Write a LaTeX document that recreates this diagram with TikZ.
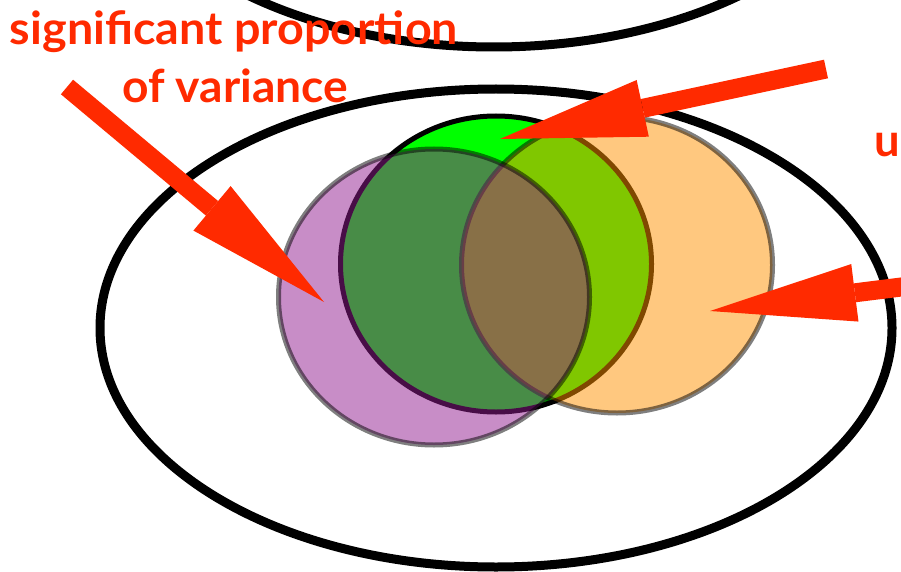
\documentclass[tikz,border=0pt]{standalone}
\usepackage{fontspec}
\usepackage{graphicx}
\newfontfamily\labelfont{Lato}
\usetikzlibrary{shapes.geometric,arrows.meta}
\definecolor{arrowred}{RGB}{255,42,0}
\definecolor{vgreen}{RGB}{0,255,0}
\definecolor{vorange}{RGB}{255,145,0}
\definecolor{vpurple}{RGB}{145,27,143}
\tikzset{
  bigellipse/.style={ellipse, draw=black, line width=9pt, minimum width=792pt, minimum height=478pt, inner sep=0pt},
  setcircle/.style={ellipse, line width=5pt, minimum width=311pt, minimum height=296pt, inner sep=0pt},
  halfset/.style={setcircle, fill=#1, fill opacity=0.5, draw=black, draw opacity=0.5},
  bigarrow/.style={draw=arrowred, line width=19pt, -{Triangle[length=146pt,width=58pt,line width=0pt]}},
  redlabel/.style={text=arrowred, font=\labelfont\bfseries\fontsize{45.4}{54}\selectfont, inner sep=0pt}
}
\begin{document}
\begin{tikzpicture}[x=1pt,y=-1pt]
\useasboundingbox (0,0) rectangle (901,572);
\clip (0,0) rectangle (901,572);
% outer sets
\node[bigellipse] (upper) at (494,-192) {};
\node[bigellipse] (outer) at (496,328) {};
% three sets
\node[setcircle, fill=vgreen, draw=black] (green) at (496,264) {};
\node[halfset=vorange] (orange) at (617,265) {};
\node[halfset=vpurple] (purple) at (434,297) {};
% labels
\node[redlabel, anchor=base] (lab1) at (234,45) {\resizebox{448pt}{\height}{significant proportion}};
\node[redlabel, anchor=base] (lab2) at (235,103) {\resizebox{226pt}{\height}{of variance}};
\node[redlabel, anchor=base west] (lab3) at (874,157) {u};
% arrow end points
\coordinate (t1) at (67,87);
\coordinate (h1) at (324,302);
\coordinate (t2) at (826,69);
\coordinate (h2) at (500,139);
\coordinate (t3) at (925,284);
\coordinate (h3) at (710,311);
\draw[bigarrow] (t1) -- (h1);
\draw[bigarrow] (t2) -- (h2);
\draw[bigarrow] (t3) -- (h3);
\end{tikzpicture}
\end{document}
